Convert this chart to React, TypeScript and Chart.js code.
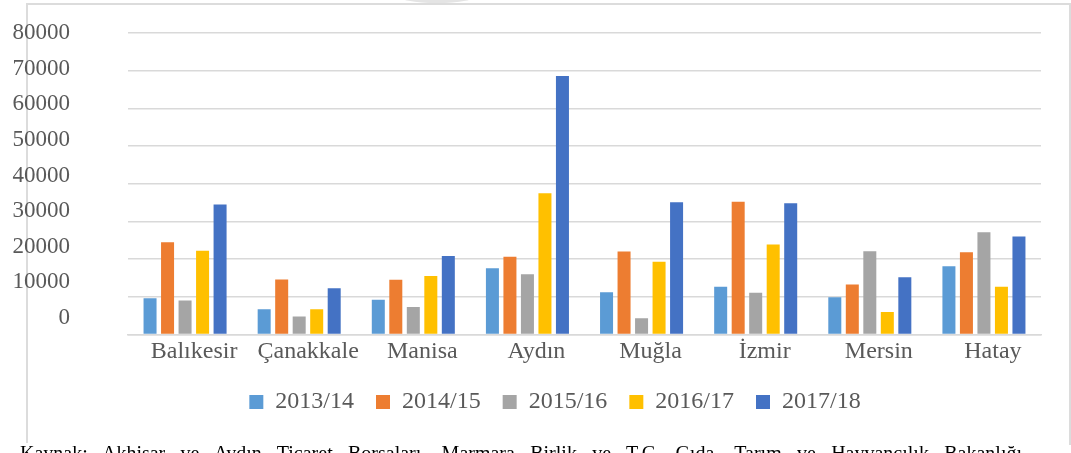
import React, { useEffect, useRef } from "react";
import { Chart, registerables } from "chart.js";

Chart.register(...registerables);

const categories = ["Balıkesir", "Çanakkale", "Manisa", "Aydın", "Muğla", "İzmir", "Mersin", "Hatay"];
const seriesLabels = ["2013/14", "2014/15", "2015/16", "2016/17", "2017/18"];
const values2013 = [9600, 6700, 9200, 17600, 11200, 12700, 9900, 18100];
const values2014 = [24500, 14600, 14500, 20600, 22000, 35200, 13300, 21800];
const values2015 = [9000, 4800, 7300, 16000, 4300, 11100, 22100, 27100];
const values2016 = [22200, 6700, 15500, 37500, 19300, 23900, 6000, 12700];
const values2017 = [34500, 12300, 20800, 68600, 35100, 34800, 15200, 26000];
const yTickLabels = [0, 10000, 20000, 30000, 40000, 50000, 60000, 70000, 80000];
const caption =
  "Kaynak: Akhisar ve Aydın Ticaret Borsaları, Marmara Birlik ve T.C. Gıda, Tarım ve Hayvancılık Bakanlığı";

const seriesColors = ["#5B9BD5", "#ED7D31", "#A5A5A5", "#FFC000", "#4472C4"];
const FONT = "'Liberation Serif', 'Times New Roman', serif";
const TEXT = "#595959";
const GRID = "#d9d9d9";

export default function App() {
  const ref = useRef<HTMLCanvasElement | null>(null);

  useEffect(() => {
    if (!ref.current) return;
    const all = [values2013, values2014, values2015, values2016, values2017];
    const chart = new Chart(ref.current, {
      type: "bar",
      data: {
        labels: categories,
        datasets: seriesLabels.map((label, i) => ({
          label,
          data: all[i],
          backgroundColor: seriesColors[i],
          borderWidth: 0,
          categoryPercentage: 0.767,
          barPercentage: 0.743,
          yAxisID: "y",
        })),
      },
      options: {
        animation: false,
        responsive: false,
        layout: { padding: { left: 0, right: 0, top: 33, bottom: 29 } },
        plugins: {
          tooltip: { enabled: false },
          legend: {
            position: "bottom",
            labels: {
              boxWidth: 14,
              boxHeight: 14,
              padding: 22,
              color: TEXT,
              font: { family: FONT, size: 24 },
            },
          },
        },
        scales: {
          x: {
            grid: { display: false, drawTicks: false },
            border: { display: true, color: GRID, width: 1.5 },
            ticks: {
              color: TEXT,
              font: { family: FONT, size: 24 },
              padding: 2.5,
              labelOffset: 9,
              maxRotation: 0,
              autoSkip: false,
            },
            afterFit: (s: any) => {
              s.height = 33.5;
            },
          },
          y: {
            position: "left",
            weight: 0,
            min: 0,
            max: 80000,
            ticks: { display: false, stepSize: 10000, padding: 0 },
            grid: { color: GRID, lineWidth: 1.5, drawTicks: false },
            border: { display: false },
            afterFit: (s: any) => {
              s.width = 58;
            },
          },
          y2: {
            type: "linear",
            position: "left",
            weight: 1,
            min: -4615,
            max: 80000,
            grid: { display: false, drawTicks: false },
            border: { display: false },
            ticks: {
              color: TEXT,
              font: { family: FONT, size: 23 },
              padding: 0,
              callback: (v: any) => String(v),
            },
            afterBuildTicks: (s: any) => {
              s.ticks = yTickLabels.map((v) => ({ value: v }));
            },
            afterFit: (s: any) => {
              s.width = 70;
            },
          },
          y3: {
            type: "linear",
            position: "right",
            grid: { display: false, drawTicks: false },
            border: { display: false },
            ticks: { display: false, padding: 0 },
            afterFit: (s: any) => {
              s.width = 69;
            },
          },
        },
      } as any,
    });
    return () => chart.destroy();
  }, []);

  return (
    <div
      style={{
        position: "absolute",
        left: 0,
        top: 0,
        width: 1071,
        height: 453,
        overflow: "hidden",
        background: "#fff",
      }}
    >
      <div
        style={{
          position: "absolute",
          left: 397,
          top: -12,
          width: 80,
          height: 15,
          borderRadius: "50%",
          background: "#e4e4e4",
        }}
      />
      <div
        style={{
          position: "absolute",
          left: 26,
          top: 3,
          width: 1041,
          height: 440,
          borderTop: "2px solid #dcdcdc",
          borderLeft: "2px solid #dcdcdc",
          borderRight: "2px solid #dcdcdc",
        }}
      />
      <canvas
        ref={ref}
        width={1110}
        height={453}
        style={{ position: "absolute", left: 0, top: 0, width: 1110, height: 453 }}
      />
      <div
        style={{
          position: "absolute",
          left: 20,
          top: 443,
          width: 1002,
          fontFamily: FONT,
          fontSize: 20,
          lineHeight: "20px",
          color: "#000",
          textAlign: "justify",
          textAlignLast: "justify" as any,
          background: "#fff",
        }}
      >
        {caption}
      </div>
    </div>
  );
}
